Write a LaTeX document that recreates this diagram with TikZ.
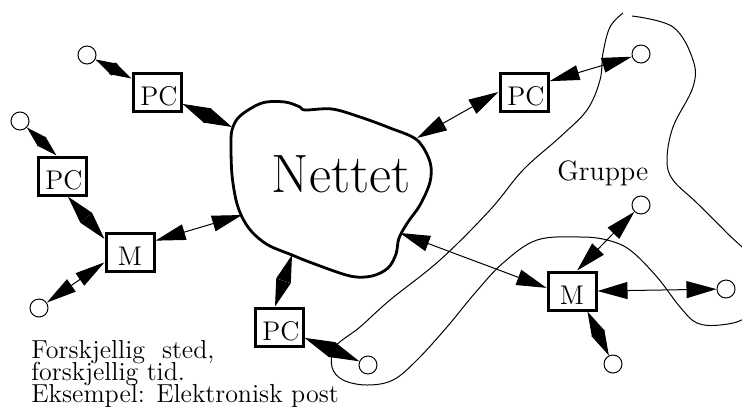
\documentclass[tikz,border=0pt]{standalone}
\usetikzlibrary{arrows.meta}
\tikzset{
  box/.style={draw, line width=1.5pt, inner sep=0pt, inner xsep=1.8pt,
    minimum width=24pt, minimum height=19pt, text width=20.4pt,
    text height=16pt, text depth=2.5pt, font=\fontsize{13.5}{15}\selectfont},
  pcbox/.style={box, align=right},
  mbox/.style={box, align=center},
  term/.style={draw, circle, line width=0.5pt, minimum size=9pt, inner sep=0pt},
  lk/.style 2 args={line width=0.5pt,
    {Triangle[length=#1,width=#2]}-{Triangle[length=#1,width=#2]}},
  caption/.style={anchor=base west, inner sep=0pt, font=\fontsize{13}{15}\selectfont},
}
\begin{document}
\begin{tikzpicture}[x=0.5pt, y=-0.5pt]
\useasboundingbox (0,0) rectangle (742,413);

% the group boundary, running off the right edge
\begin{scope}
  \clip (0,0) rectangle (742,413);
  \draw[line width=0.5pt] plot[smooth, tension=0.6] coordinates {
    (632,16) (673,27) (693,60) (693,87) (673,127) (667,160) (673,180)
    (697,203) (727,233) (755,262) (762,295) (745,318) (720,325) (697,323)
    (680,307) (657,277) (630,250) (607,240) (580,237) (537,240) (503,263)
    (475,293) (447,327) (417,360) (393,380) (367,385) (343,380) (332,367)
    (335,347) (360,327) (390,300) (440,260) (490,210) (523,170) (560,137)
    (587,110) (600,80) (603,53) (610,27) (623,13)};
\end{scope}

% the network cloud
\draw[line width=1.4pt] plot[smooth cycle, tension=0.55] coordinates {
  (232,130) (240,116) (262,103) (285,102) (300,107) (305,110) (332,109)
  (360,117) (390,128) (417,140) (430,162) (430,182) (420,205) (408,222)
  (399,238) (396,254) (388,268) (372,276) (350,276) (312,263)
  (292,255) (268,245) (252,232) (242,217) (236,200) (232,175) (231,148)};
\node[anchor=base, inner sep=0pt, font=\fontsize{27}{30}\selectfont] (net) at (341,192) {Nettet};

% attachment points on the cloud
\coordinate (n1) at (232,127);
\coordinate (n2) at (242,215);
\coordinate (n3) at (417,138);
\coordinate (n4) at (292,255);
\coordinate (n5) at (400,233);

% machines
\node[pcbox] (pc1) at (157,92) {PC};
\node[pcbox] (pc2) at (62,176) {PC};
\node[mbox]  (m1)  at (130,252) {M\hspace*{3pt}};
\node[pcbox] (pc3) at (524,92) {PC};
\node[pcbox] (pc4) at (279,327) {PC};
\node[mbox]  (m2)  at (572,291) {M\hspace*{3pt}};

% terminals
\node[term] (c1) at (87,55) {};
\node[term] (c2) at (20,121) {};
\node[term] (c3) at (39,308) {};
\node[term] (c4) at (641,54) {};
\node[term] (c5) at (368,365) {};
\node[term] (c6) at (641,205) {};
\node[term] (c7) at (726,289) {};
\node[term] (c8) at (613,364) {};

% connections
\draw[lk={11pt}{6.5pt}]   (c1) -- (pc1);
\draw[lk={14pt}{8pt}]     (pc1) -- (n1);
\draw[lk={10.5pt}{6pt}]   (c2) -- (pc2.105);
\draw[lk={14pt}{7.5pt}]   (pc2.-74) -- (m1.153);
\draw[lk={15pt}{7.5pt}]   (m1.-158) -- (c3);
\draw[lk={15pt}{8pt}]     (m1.24) -- (n2);
\draw[lk={15pt}{8pt}]     (pc3.west) -- (n3);
\draw[lk={15pt}{7.5pt}]   (pc3.23) -- (c4);
\draw[lk={13.5pt}{7.5pt}] (pc4.101) -- (n4);
\draw[lk={15pt}{8pt}]     (pc4.-23) -- (c5);
\draw[lk={15pt}{8pt}]     (m2.173) -- (n5);
\draw[lk={15pt}{8pt}]     (m2.76) -- (c6);
\draw[lk={15pt}{8.5pt}]   (m2.east) -- (c7);
\draw[lk={12.5pt}{7pt}]   (m2.-53) -- (c8);

% labels
\node[anchor=base west, inner sep=0pt, font=\fontsize{14}{16}\selectfont] (grp) at (557,180) {Gruppe};
\node[caption] (l1) at (31,358) {Forskjellig\ \ sted,};
\node[caption] (l2) at (31,380) {forskjellig tid.};
\node[caption] (l3) at (31,402) {Eksempel: Elektronisk post};
\end{tikzpicture}
\end{document}
